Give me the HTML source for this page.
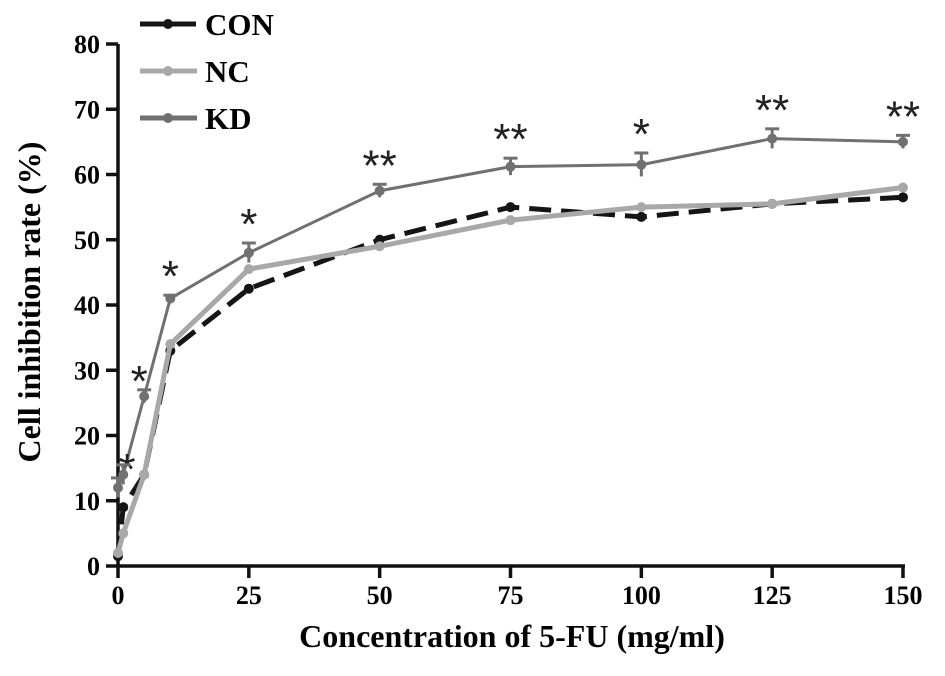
<!DOCTYPE html>
<html><head><meta charset="utf-8"><style>
body{margin:0;background:#fff;}
svg{display:block;font-family:"Liberation Serif",serif;font-weight:bold;}
</style></head><body>
<svg id="chart" width="945" height="676"></svg>
<script>
const xs=[0,1,5,10,25,50,75,100,125,150];
const conV=[1.5,9,14,33,42.5,50,55,53.5,55.5,56.5];
const ncV=[2,5,14,34,45.5,49,53,55,55.5,58];
const kdV=[12,14,26,41,48,57.5,61.2,61.5,65.5,65];
const kdErr=[1.5,1.5,1,0.5,1.5,1,1.3,1.8,1.5,1];
const stars=['*','','*','*','*','**','**','*','**','**'];
const xTicks=[0,25,50,75,100,125,150];
const yTicks=[0,10,20,30,40,50,60,70,80];
const NS='http://www.w3.org/2000/svg';
const svg=document.getElementById('chart');
const X=v=>118+v*(903-118)/150, Y=v=>566-v*(566-44)/80;
function el(t,a,p){const e=document.createElementNS(NS,t);for(const k in a)e.setAttribute(k,a[k]);(p||svg).appendChild(e);return e;}
const ax=el('g',{});


el('line',{x1:118,y1:44,x2:118,y2:567,stroke:'#111','stroke-width':3.5},ax);
el('line',{x1:116,y1:566,x2:905,y2:566,stroke:'#111','stroke-width':3.5},ax);
yTicks.forEach(t=>{el('line',{x1:106,x2:118,y1:Y(t),y2:Y(t),stroke:'#111','stroke-width':3.5},ax);
const tx=el('text',{x:100,y:Y(t)+9,'text-anchor':'end','font-size':26},ax);tx.textContent=t;
});
xTicks.forEach(t=>{el('line',{x1:X(t),x2:X(t),y1:566,y2:578,stroke:'#111','stroke-width':3.5},ax);
const tx=el('text',{x:X(t),y:604,'text-anchor':'middle','font-size':26},ax);tx.textContent=t;
});
const xt=el('text',{x:512,y:647,'text-anchor':'middle','font-size':32});xt.textContent='Concentration of 5-FU (mg/ml)';

const yt=el('text',{x:0,y:0,'text-anchor':'middle','font-size':32,transform:'translate(40,302) rotate(-90)'});yt.textContent='Cell inhibition rate (%)';

function series(vals,color,w,dash,name){
 const g=el('g',{});
 
 
 el('polyline',{points:vals.map((v,i)=>X(xs[i])+','+Y(v)).join(' '),fill:'none',stroke:color,'stroke-width':w,'stroke-dasharray':dash||'none'},g);
 vals.forEach((v,i)=>el('circle',{cx:X(xs[i]),cy:Y(v),r:5,fill:color},g));
}
series(conV,'#151515',5,'22,10','series-con');
series(ncV,'#a8a8a8',5,'','series-nc');
series(kdV,'#707070',3,'','series-kd');
kdV.forEach((v,i)=>{el('line',{x1:X(xs[i]),x2:X(xs[i]),y1:Y(v+kdErr[i]),y2:Y(v-kdErr[i]),stroke:'#707070','stroke-width':3});
el('line',{x1:X(xs[i])-7,x2:X(xs[i])+7,y1:Y(v+kdErr[i]),y2:Y(v+kdErr[i]),stroke:'#707070','stroke-width':3});
if(stars[i]){const early=i<4;const s=el('text',{x:X(xs[i])+(i==0?9:0)+(i==2?-5:0),y:Y(v+kdErr[i])-4+(early&&i<3?10:0),'text-anchor':'middle','font-size':44,'font-family':'Liberation Sans',fill:'#222','font-weight':'normal'});
s.textContent=stars[i];}});
const leg=[['CON','#151515'],['NC','#a8a8a8'],['KD','#707070']];
leg.forEach((l,i)=>{const g=el('g',{});
const y=24+i*47;el('line',{x1:140,x2:197,y1:y,y2:y,stroke:l[1],'stroke-width':5,'stroke-dasharray':i==0?'24,8':'none'},g);
el('circle',{cx:168,cy:y,r:5,fill:l[1]},g);
const t=el('text',{x:205,y:y+11,'font-size':31},g);t.textContent=l[0];});
</script>
</body></html>
